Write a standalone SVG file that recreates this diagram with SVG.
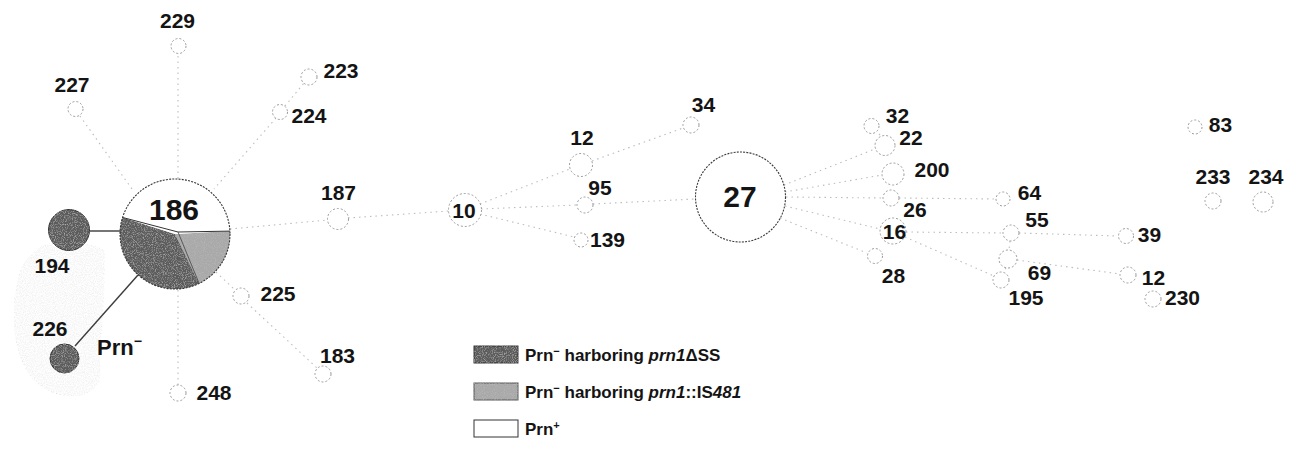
<svg xmlns="http://www.w3.org/2000/svg" width="1295" height="462" viewBox="0 0 1295 462">
  <style>
    .lbl { font-family: "Liberation Sans", Arial, sans-serif; font-weight: bold; font-size: 21px; fill: #141414; }
    .big { font-size: 30px; }
    .leg { font-family: "Liberation Sans", Arial, sans-serif; font-weight: bold; font-size: 17px; fill: #141414; }
    .node { fill: #ffffff; stroke: #9a9a9a; stroke-width: 1; stroke-dasharray: 2 2; }
    .hub { fill: #ffffff; stroke: #3a3a3a; stroke-width: 1.1; stroke-dasharray: 2 1.2; }
    .dark { fill: #5c5c5c; }
    .light { fill: #a9a9a9; }
    .edge { stroke: #bdbdbd; stroke-width: 1.1; stroke-dasharray: 1.5 4; fill: none; }
    .solid { stroke: #3c3c3c; stroke-width: 1.4; fill: none; }
  </style>
  <defs>
    <filter id="grain" x="0" y="0" width="100%" height="100%">
      <feTurbulence type="fractalNoise" baseFrequency="0.9" numOctaves="2" seed="3" result="n"/>
      <feColorMatrix in="n" type="matrix" values="0 0 0 0 0  0 0 0 0 0  0 0 0 0 0  0 0 0 -1.8 1.2" result="a"/>
      <feComposite in="SourceGraphic" in2="a" operator="in"/>
    </filter>
    <filter id="speckle" x="-5%" y="-5%" width="110%" height="110%">
      <feTurbulence type="fractalNoise" baseFrequency="1.1" numOctaves="1" seed="7" result="n"/>
      <feColorMatrix in="n" type="matrix" values="0 0 0 0 0.5  0 0 0 0 0.5  0 0 0 0 0.5  0 0 0 -2.2 1.15" result="dots"/>
      <feComposite in="dots" in2="SourceGraphic" operator="in" result="d"/>
      <feMerge><feMergeNode in="SourceGraphic"/><feMergeNode in="d"/></feMerge>
    </filter>
  </defs>

  <rect width="1295" height="462" fill="#ffffff"/>

  <!-- shaded area around the Prn- isolates -->
  <path d="M 104 250 C 70 236, 28 236, 18 280 C 8 325, 16 378, 52 392 C 80 402, 100 392, 100 372 C 98 345, 106 300, 104 250 Z"
        fill="#eeeeee" stroke="#d6d6d6" stroke-width="1" stroke-dasharray="1.5 2.5" filter="url(#grain)"/>

  <!-- connectors -->
  <g id="connectors">
    <line class="edge" x1="178" y1="56" x2="178" y2="179"/>
    <line class="edge" x1="80" y1="116" x2="132" y2="189"/>
    <line class="edge" x1="276" y1="118" x2="214" y2="189"/>
    <line class="edge" x1="285" y1="106" x2="304" y2="83"/>
    <line class="solid" x1="89" y1="231" x2="120" y2="231"/>
    <line class="solid" x1="75" y1="346" x2="138" y2="275"/>
    <line class="edge" x1="230" y1="229" x2="328" y2="220"/>
    <line class="edge" x1="348" y1="218" x2="449" y2="211"/>
    <line class="edge" x1="216" y1="272" x2="235" y2="290"/>
    <line class="edge" x1="247" y1="303" x2="317" y2="368"/>
    <line class="edge" x1="178" y1="290" x2="178" y2="385"/>
    <line class="edge" x1="480" y1="204" x2="570" y2="169"/>
    <line class="edge" x1="481" y1="209" x2="577" y2="205"/>
    <line class="edge" x1="480" y1="214" x2="574" y2="237"/>
    <line class="edge" x1="592" y1="161" x2="683" y2="128"/>
    <line class="edge" x1="593" y1="204" x2="695" y2="199"/>
    <line class="edge" x1="784" y1="185" x2="875" y2="149"/>
    <line class="edge" x1="879" y1="134" x2="882" y2="137"/>
    <line class="edge" x1="785" y1="192" x2="882" y2="175"/>
    <line class="edge" x1="786" y1="197" x2="883" y2="198"/>
    <line class="edge" x1="785" y1="206" x2="880" y2="229"/>
    <line class="edge" x1="780" y1="218" x2="867" y2="253"/>
    <line class="edge" x1="899" y1="198" x2="996" y2="199"/>
    <line class="edge" x1="906" y1="232" x2="1003" y2="233"/>
    <line class="edge" x1="905" y1="237" x2="994" y2="276"/>
    <line class="edge" x1="1019" y1="233" x2="1118" y2="236"/>
    <line class="edge" x1="1010" y1="241" x2="1009" y2="250"/>
    <line class="edge" x1="1006" y1="268" x2="1003" y2="272"/>
    <line class="edge" x1="1017" y1="260" x2="1120" y2="274"/>
  </g>

  <!-- Prn- cluster hub -->
  <g id="n186">
    <path class="light" filter="url(#speckle)" d="M175,234 L229.92,231.12 A55,55 0 0 1 199.11,283.43 Z"/>
    <path class="dark" filter="url(#speckle)" d="M175,234 L199.11,283.43 A55,55 0 0 1 122.55,217.46 Z"/>
    <path fill="#ffffff" d="M175,234 L122.55,217.46 A55,55 0 0 1 229.92,231.12 Z"/>
    <line x1="122.55" y1="217.46" x2="178" y2="232" stroke="#333" stroke-width="1"/>
    <line x1="178" y1="232" x2="229.92" y2="231.12" stroke="#333" stroke-width="1"/>
    <line x1="178" y1="232" x2="199.11" y2="283.43" stroke="#444" stroke-width="0.8"/>
    <circle cx="175" cy="234" r="55" fill="none" stroke="#333" stroke-width="1.1" stroke-dasharray="2 1.2"/>
    <text class="lbl big" x="174" y="220" text-anchor="middle">186</text>
  </g>
  <g id="n194">
    <circle cx="69" cy="230" r="20.5" fill="#5c5c5c" stroke="#333" stroke-width="1" filter="url(#speckle)"/>
    <text class="lbl" x="52" y="273" text-anchor="middle">194</text>
  </g>
  <g id="n226">
    <circle cx="64.5" cy="358.5" r="14.5" fill="#5c5c5c" stroke="#333" stroke-width="1" filter="url(#speckle)"/>
    <text class="lbl" x="50" y="336" text-anchor="middle">226</text>
  </g>
  <g id="prn-minus-label">
    <text class="lbl" x="97" y="355" style="font-size:22px">Prn<tspan dy="-9" style="font-size:14px">−</tspan></text>
  </g>

  <g id="n229"><circle class="node" cx="178.5" cy="46" r="7.5"/><text class="lbl" x="177.5" y="28" text-anchor="middle">229</text></g>
  <g id="n227"><circle class="node" cx="75.5" cy="109" r="7.5"/><text class="lbl" x="72" y="92" text-anchor="middle">227</text></g>
  <g id="n223"><circle class="node" cx="309" cy="77" r="8"/><text class="lbl" x="341" y="78" text-anchor="middle">223</text></g>
  <g id="n224"><circle class="node" cx="280" cy="112" r="7.5"/><text class="lbl" x="309" y="123" text-anchor="middle">224</text></g>
  <g id="n225"><circle class="node" cx="241" cy="296" r="8"/><text class="lbl" x="278" y="301" text-anchor="middle">225</text></g>
  <g id="n183"><circle class="node" cx="323" cy="374" r="8"/><text class="lbl" x="337.5" y="363" text-anchor="middle">183</text></g>
  <g id="n248"><circle class="node" cx="178" cy="393" r="8"/><text class="lbl" x="214" y="400" text-anchor="middle">248</text></g>
  <g id="n187"><circle class="node" cx="338" cy="219" r="10.5"/><text class="lbl" x="338.5" y="200" text-anchor="middle">187</text></g>
  <g id="n10"><circle class="node" cx="465" cy="210" r="16.5"/><text class="lbl" x="464" y="218" text-anchor="middle">10</text></g>
  <g id="n12a"><circle class="node" cx="581" cy="165" r="11.5"/><text class="lbl" x="582" y="145" text-anchor="middle">12</text></g>
  <g id="n95"><circle class="node" cx="585" cy="205" r="8"/><text class="lbl" x="600" y="195" text-anchor="middle">95</text></g>
  <g id="n139"><circle class="node" cx="581" cy="240" r="7"/><text class="lbl" x="607.5" y="247" text-anchor="middle">139</text></g>
  <g id="n34"><circle class="node" cx="691" cy="125" r="8"/><text class="lbl" x="703.5" y="112" text-anchor="middle">34</text></g>

  <!-- Prn+ hub -->
  <g id="n27">
    <circle class="hub" cx="740.5" cy="197" r="45"/>
    <text class="lbl big" x="740" y="207" text-anchor="middle">27</text>
  </g>

  <g id="n32"><circle class="node" cx="871.5" cy="126" r="7.5"/><text class="lbl" x="897.5" y="123" text-anchor="middle">32</text></g>
  <g id="n22"><circle class="node" cx="885" cy="145.5" r="10"/><text class="lbl" x="911" y="145" text-anchor="middle">22</text></g>
  <g id="n200"><circle class="node" cx="893" cy="174" r="11"/><text class="lbl" x="932" y="177" text-anchor="middle">200</text></g>
  <g id="n26"><circle class="node" cx="891" cy="198" r="8"/><text class="lbl" x="915" y="217" text-anchor="middle">26</text></g>
  <g id="n16"><circle class="node" cx="893" cy="231" r="13"/><text class="lbl" x="894.5" y="239" text-anchor="middle">16</text></g>
  <g id="n28"><circle class="node" cx="875" cy="256" r="7.5"/><text class="lbl" x="893.5" y="283" text-anchor="middle">28</text></g>
  <g id="n64"><circle class="node" cx="1003" cy="199" r="7"/><text class="lbl" x="1029.5" y="200" text-anchor="middle">64</text></g>
  <g id="n55"><circle class="node" cx="1011" cy="233" r="8"/><text class="lbl" x="1037" y="227" text-anchor="middle">55</text></g>
  <g id="n69"><circle class="node" cx="1008" cy="259" r="9"/><text class="lbl" x="1039.5" y="280" text-anchor="middle">69</text></g>
  <g id="n195"><circle class="node" cx="1001" cy="280" r="8"/><text class="lbl" x="1026" y="305" text-anchor="middle">195</text></g>
  <g id="n39"><circle class="node" cx="1126" cy="236" r="7.5"/><text class="lbl" x="1149.5" y="242" text-anchor="middle">39</text></g>
  <g id="n12b"><circle class="node" cx="1128" cy="275" r="8"/><text class="lbl" x="1153.5" y="285" text-anchor="middle">12</text></g>
  <g id="n230"><circle class="node" cx="1153" cy="299" r="8"/><text class="lbl" x="1182.5" y="305" text-anchor="middle">230</text></g>
  <g id="n83"><circle class="node" cx="1195" cy="127" r="7"/><text class="lbl" x="1220.5" y="132" text-anchor="middle">83</text></g>
  <g id="n233"><circle class="node" cx="1213" cy="201" r="8"/><text class="lbl" x="1213" y="184" text-anchor="middle">233</text></g>
  <g id="n234"><circle class="node" cx="1263" cy="202" r="10"/><text class="lbl" x="1266" y="184" text-anchor="middle">234</text></g>

  <!-- legend -->
  <g id="legend">
    <rect x="474" y="346" width="44" height="17" fill="#5c5c5c" stroke="#333" stroke-width="1" filter="url(#speckle)"/>
    <text class="leg" x="525" y="361">Prn<tspan dy="-6" style="font-size:11px">−</tspan><tspan dy="6"> harboring </tspan><tspan font-style="italic">prn1</tspan>ΔSS</text>
    <rect x="474" y="383" width="44" height="17" fill="#a9a9a9" stroke="#555" stroke-width="1" filter="url(#speckle)"/>
    <text class="leg" x="525" y="398">Prn<tspan dy="-6" style="font-size:11px">−</tspan><tspan dy="6"> harboring </tspan><tspan font-style="italic">prn1</tspan>::IS<tspan font-style="italic">481</tspan></text>
    <rect x="474" y="420" width="44" height="17" fill="#ffffff" stroke="#333" stroke-width="1"/>
    <text class="leg" x="525" y="435">Prn<tspan dy="-6" style="font-size:11px">+</tspan></text>
  </g>
</svg>
